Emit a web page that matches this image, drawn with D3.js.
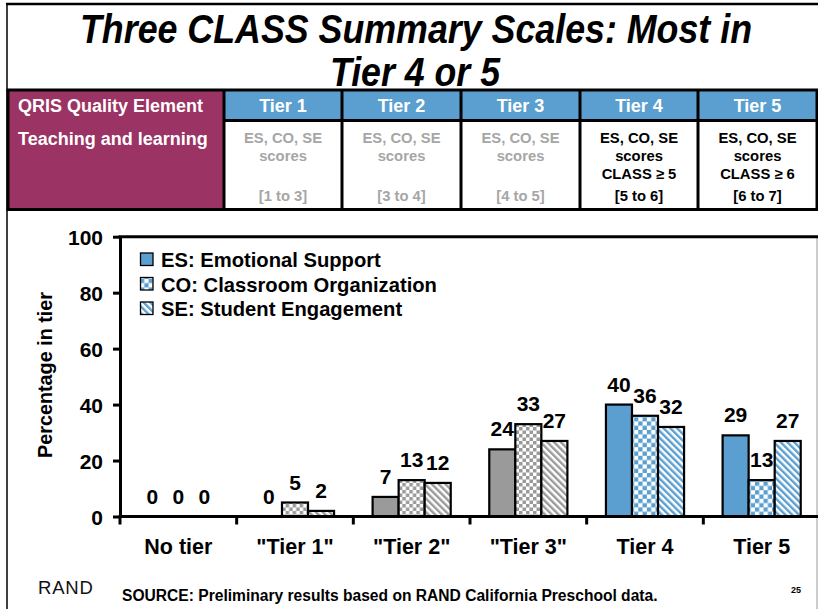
<!DOCTYPE html>
<html>
<head>
<meta charset="utf-8">
<script src="https://cdn.jsdelivr.net/npm/d3@7"></script>
<style>
  html, body { margin: 0; padding: 0; background: #fff; }
  svg { display: block; }
</style>
</head>
<body>
<svg id="chart" width="818" height="609"></svg>
<script>
// ---------- data ----------
const titleLines = ["Three CLASS Summary Scales: Most in", "Tier 4 or 5"];
const categories = ["No tier", "\"Tier 1\"", "\"Tier 2\"", "\"Tier 3\"", "Tier 4", "Tier 5"];
const categoryTone = ["gray", "gray", "gray", "gray", "blue", "blue"];
const series = ["ES", "CO", "SE"];
const seriesNames = ["ES: Emotional Support", "CO: Classroom Organization", "SE: Student Engagement"];
const esValues = [0, 0, 7, 24, 40, 29];
const coValues = [0, 5, 13, 33, 36, 13];
const seValues = [0, 2, 12, 27, 32, 27];
const yTicks = [0, 20, 40, 60, 80, 100];
const yTitle = "Percentage in tier";

const tableCorner = "QRIS Quality Element";
const tableRowLabel = "Teaching and learning";
const tierHeaders = ["Tier 1", "Tier 2", "Tier 3", "Tier 4", "Tier 5"];
const tierCriteria = [
  ["ES, CO, SE", "scores", ""],
  ["ES, CO, SE", "scores", ""],
  ["ES, CO, SE", "scores", ""],
  ["ES, CO, SE", "scores", "CLASS \u2265 5"],
  ["ES, CO, SE", "scores", "CLASS \u2265 6"]
];
const tierRanges = ["[1 to 3]", "[3 to 4]", "[4 to 5]", "[5 to 6]", "[6 to 7]"];
const tierActive = [false, false, false, true, true];

const sourceText = "SOURCE: Preliminary results based on RAND California Preschool data.";
const logoText = "RAND";
const pageNumber = "25";

// ---------- styles ----------
const FONT = "'Liberation Sans', Arial, Helvetica, sans-serif";
const NARROW = "'Liberation Sans Narrow', 'Arial Narrow', 'Liberation Sans', Arial, sans-serif";
const BLUE = "#5a9fcf";
const GRAY = "#9a9a9a";
const PURPLE = "#9b3364";
const GRAYTEXT = "#a6a6a6";

const svg = d3.select("#chart");
svg.append("rect").attr("width", 818).attr("height", 609).attr("fill", "#fff");

// ---------- patterns ----------
const defs = svg.append("defs");
function checker(id, color, s) {
  const p = defs.append("pattern").attr("id", id).attr("patternUnits", "userSpaceOnUse")
    .attr("width", 2 * s).attr("height", 2 * s);
  p.append("rect").attr("width", 2 * s).attr("height", 2 * s).attr("fill", "#fff");
  p.append("rect").attr("x", 0).attr("y", 0).attr("width", s).attr("height", s).attr("fill", color);
  p.append("rect").attr("x", s).attr("y", s).attr("width", s).attr("height", s).attr("fill", color);
}
function stripes(id, color, w) {
  const p = defs.append("pattern").attr("id", id).attr("patternUnits", "userSpaceOnUse")
    .attr("width", w).attr("height", w).attr("patternTransform", "rotate(-45)");
  p.append("rect").attr("width", w).attr("height", w).attr("fill", "#fff");
  p.append("rect").attr("x", 0).attr("y", 0).attr("width", w / 2).attr("height", w).attr("fill", color);
}
checker("chkGray", GRAY, 3.5);
checker("chkBlue", BLUE, 4.3);
stripes("strGray", GRAY, 4.8);
stripes("strBlue", BLUE, 4.8);

function fillFor(tone, s) {
  if (s === "ES") return tone === "blue" ? BLUE : GRAY;
  if (s === "CO") return tone === "blue" ? "url(#chkBlue)" : "url(#chkGray)";
  return tone === "blue" ? "url(#strBlue)" : "url(#strGray)";
}

// ---------- slide frame ----------
svg.append("line").attr("x1", 6).attr("x2", 818).attr("y1", 4).attr("y2", 4)
  .attr("stroke", "#000").attr("stroke-width", 2.5);
svg.append("line").attr("x1", 7).attr("x2", 7).attr("y1", 3).attr("y2", 609)
  .attr("stroke", "#000").attr("stroke-width", 1.5);
svg.append("line").attr("x1", 817).attr("x2", 817).attr("y1", 236).attr("y2", 609)
  .attr("stroke", "#999").attr("stroke-width", 1);

// ---------- title ----------
svg.append("text").attr("x", 416).attr("y", 43).attr("text-anchor", "middle")
  .attr("font-family", NARROW).attr("font-weight", "bold").attr("font-style", "italic")
  .attr("font-size", 40).attr("textLength", 672).attr("lengthAdjust", "spacingAndGlyphs")
  .text(titleLines[0]);
svg.append("text").attr("x", 415).attr("y", 86).attr("text-anchor", "middle")
  .attr("font-family", NARROW).attr("font-weight", "bold").attr("font-style", "italic")
  .attr("font-size", 40).attr("textLength", 170).attr("lengthAdjust", "spacingAndGlyphs")
  .text(titleLines[1]);

// ---------- table ----------
const colEdges = [8, 224, 342, 461, 580, 698, 817];
const rowTop = 90, rowMid = 120.5, rowBot = 209.5;
const tbl = svg.append("g");
tbl.append("rect").attr("x", colEdges[0]).attr("y", rowTop).attr("width", colEdges[1] - colEdges[0])
  .attr("height", rowBot - rowTop).attr("fill", PURPLE);
tierHeaders.forEach((h, i) => {
  const x0 = colEdges[i + 1], x1 = colEdges[i + 2];
  tbl.append("rect").attr("x", x0).attr("y", rowTop).attr("width", x1 - x0)
    .attr("height", rowMid - rowTop).attr("fill", BLUE);
  tbl.append("text").attr("x", (x0 + x1) / 2).attr("y", 112).attr("text-anchor", "middle")
    .attr("font-family", FONT).attr("font-weight", "bold").attr("font-size", 18)
    .attr("fill", "#fff").text(h);
  const col = tierActive[i] ? "#000" : GRAYTEXT;
  const lines = tierCriteria[i];
  [143, 161, 179].forEach((yy, k) => {
    if (lines[k]) tbl.append("text").attr("x", (x0 + x1) / 2).attr("y", yy).attr("text-anchor", "middle")
      .attr("font-family", FONT).attr("font-weight", "bold").attr("font-size", 14.8)
      .attr("fill", col).text(lines[k]);
  });
  tbl.append("text").attr("x", (x0 + x1) / 2).attr("y", 201).attr("text-anchor", "middle")
    .attr("font-family", FONT).attr("font-weight", "bold").attr("font-size", 14.8)
    .attr("fill", col).text(tierRanges[i]);
});
tbl.append("text").attr("x", 18).attr("y", 112).attr("font-family", FONT).attr("font-weight", "bold")
  .attr("font-size", 18).attr("fill", "#fff").text(tableCorner);
tbl.append("text").attr("x", 18).attr("y", 145).attr("font-family", FONT).attr("font-weight", "bold")
  .attr("font-size", 18).attr("fill", "#fff").text(tableRowLabel);
colEdges.forEach(x => tbl.append("line").attr("x1", x).attr("x2", x).attr("y1", rowTop).attr("y2", rowBot)
  .attr("stroke", "#000").attr("stroke-width", 3));
[rowTop, rowBot].forEach(y => tbl.append("line").attr("x1", colEdges[0] - 1.5).attr("x2", 818).attr("y1", y).attr("y2", y)
  .attr("stroke", "#000").attr("stroke-width", 3));
tbl.append("line").attr("x1", colEdges[1]).attr("x2", 818).attr("y1", rowMid).attr("y2", rowMid)
  .attr("stroke", "#000").attr("stroke-width", 3);

// ---------- chart ----------
const x0Left = 120, x0Right = 820;
const yBase = 516.5, yTopPx = 236.7;
const x = d3.scaleBand().domain(categories).range([x0Left, x0Right]).paddingInner(0).paddingOuter(0);
const xs = d3.scaleBand().domain(series).range([0, x.bandwidth()]).paddingInner(0).paddingOuter(0.74);
const y = d3.scaleLinear().domain([0, 100]).range([yBase, yTopPx]);

const rows = categories.map((c, i) => ({
  cat: c, tone: categoryTone[i],
  vals: [{ s: "ES", v: esValues[i] }, { s: "CO", v: coValues[i] }, { s: "SE", v: seValues[i] }]
}));

const g = svg.append("g");
const groups = g.selectAll("g.grp").data(rows).join("g").attr("class", "grp")
  .attr("transform", d => `translate(${x(d.cat)},0)`);
groups.selectAll("rect").data(d => d.vals.map(o => ({ ...o, tone: d.tone })).filter(o => o.v > 0))
  .join("rect")
  .attr("x", d => xs(d.s)).attr("width", xs.bandwidth())
  .attr("y", d => y(d.v)).attr("height", d => yBase - y(d.v))
  .attr("fill", d => fillFor(d.tone, d.s))
  .attr("stroke", "#000").attr("stroke-width", 2.2);
groups.selectAll("text.val").data(d => d.vals).join("text").attr("class", "val")
  .attr("x", d => xs(d.s) + xs.bandwidth() / 2).attr("y", d => y(d.v) - 13)
  .attr("text-anchor", "middle").attr("font-family", FONT).attr("font-weight", "bold")
  .attr("font-size", 21).attr("fill", "#000").text(d => d.v);

svg.append("line").attr("x1", x0Left - 1.5).attr("x2", 818).attr("y1", yTopPx).attr("y2", yTopPx)
  .attr("stroke", "#000").attr("stroke-width", 3);

const yAxis = svg.append("g").attr("transform", `translate(${x0Left},0)`)
  .call(d3.axisLeft(y).tickValues(yTicks).tickSize(7).tickPadding(10).tickSizeOuter(0));
yAxis.select(".domain").attr("stroke", "#000").attr("stroke-width", 3);
yAxis.selectAll(".tick line").attr("stroke", "#000").attr("stroke-width", 3);
yAxis.selectAll(".tick text").attr("font-family", FONT).attr("font-weight", "bold")
  .attr("font-size", 21).attr("fill", "#000").attr("dy", "0.36em");

const xAxis = svg.append("g").attr("transform", `translate(0,${yBase})`)
  .call(d3.axisBottom(x).tickSize(0).tickPadding(0).tickSizeOuter(0));
xAxis.select(".domain").remove();
xAxis.selectAll(".tick text").attr("font-family", FONT).attr("font-weight", "bold")
  .attr("font-size", 21.5).attr("fill", "#000").attr("dy", 0).attr("y", 37);
svg.append("line").attr("x1", x0Left - 1.5).attr("x2", 818).attr("y1", yBase).attr("y2", yBase)
  .attr("stroke", "#000").attr("stroke-width", 3);
svg.selectAll("line.xt").data(categories).join("line").attr("class", "xt")
  .attr("x1", d => x(d)).attr("x2", d => x(d)).attr("y1", yBase).attr("y2", yBase + 8)
  .attr("stroke", "#000").attr("stroke-width", 3);

svg.append("text").attr("transform", "translate(52,375) rotate(-90)").attr("text-anchor", "middle")
  .attr("font-family", FONT).attr("font-weight", "bold").attr("font-size", 19.8).attr("fill", "#000")
  .text(yTitle);

const legend = svg.append("g").attr("transform", "translate(140,253)");
series.forEach((s, i) => {
  const ly = i * 24.5;
  legend.append("rect").attr("x", 0.5).attr("y", ly).attr("width", 12.5).attr("height", 12.5)
    .attr("fill", fillFor("blue", s)).attr("stroke", "#000").attr("stroke-width", 1.3);
  legend.append("text").attr("x", 21).attr("y", ly + 14).attr("font-family", FONT)
    .attr("font-weight", "bold").attr("font-size", 20.2).attr("fill", "#000").text(seriesNames[i]);
});

svg.append("text").attr("x", 38).attr("y", 594).attr("font-family", FONT).attr("font-size", 18.5)
  .attr("letter-spacing", 0.8).attr("fill", "#111").text(logoText);
svg.append("text").attr("x", 122).attr("y", 601).attr("font-family", FONT).attr("font-weight", "bold")
  .attr("font-size", 15.6).attr("fill", "#000").text(sourceText);
svg.append("text").attr("x", 796).attr("y", 593).attr("text-anchor", "middle").attr("font-family", FONT)
  .attr("font-weight", "bold").attr("font-size", 9).attr("fill", "#000").text(pageNumber);
</script>
</body>
</html>
